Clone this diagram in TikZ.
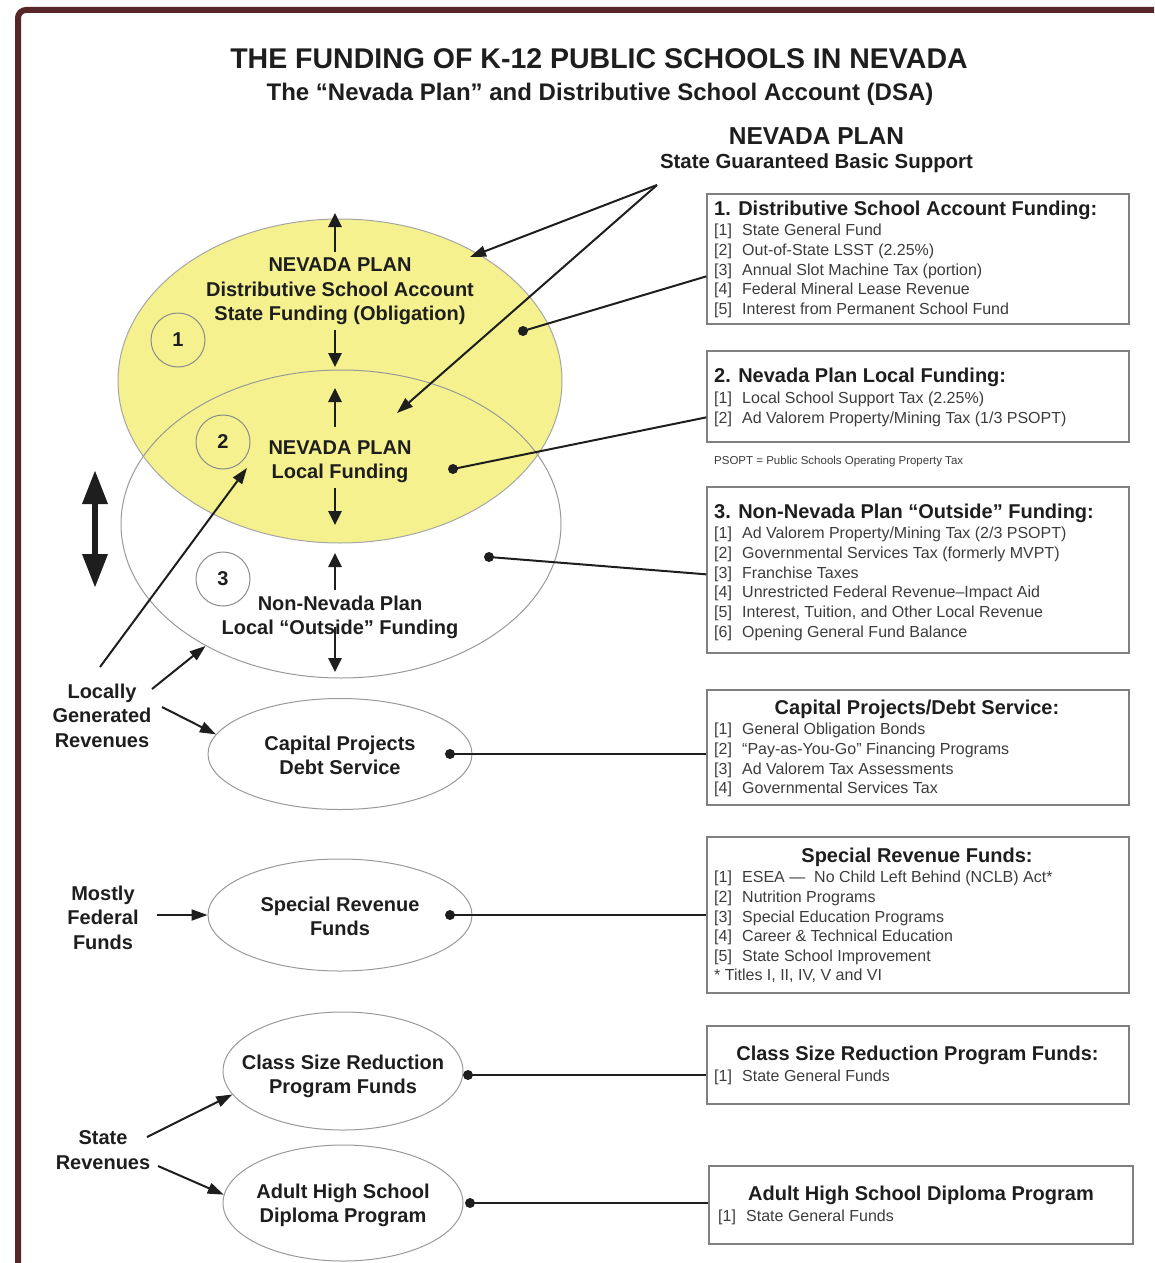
\documentclass[tikz,border=0pt]{standalone}
\usepackage{fontspec}
\setmainfont{Liberation Sans}
\usepackage{tikz}
\usetikzlibrary{arrows.meta, positioning, calc, shapes.geometric}

\definecolor{framered}{RGB}{88,38,40}
\definecolor{planyellow}{RGB}{245,241,142}
\definecolor{ink}{RGB}{30,30,30}
\definecolor{itemgray}{RGB}{60,60,60}

\newcommand{\itm}[2]{\makebox[28pt][l]{[#1]}#2}

\begin{document}
\begin{tikzpicture}[x=1pt, y=-1pt,
  lbl/.style={font=\fontsize{20}{24.5}\selectfont\bfseries, text=ink, align=center},
  boxtitle/.style={font=\fontsize{20}{24}\selectfont\bfseries, text=ink, inner sep=0pt},
  entry/.style={font=\fontsize{16}{19.7}\selectfont, text=itemgray, inner sep=0pt, anchor=base west},
  fundbox/.style={draw=black!50, line width=1.3pt, inner sep=0pt},
  fund/.style={ellipse, draw=black!40, line width=1pt, inner sep=0pt},
  num/.style={circle, draw=black!45, line width=1pt, minimum size=54pt, inner sep=0pt,
    font=\fontsize{20}{24}\selectfont\bfseries, text=ink},
  dot/.style={circle, fill=ink, inner sep=0pt, minimum size=10pt},
  tie/.style={line width=2pt, draw=ink},
  flow/.style={-{Triangle[length=14pt,width=13pt]}, line width=2.6pt, draw=ink},
  pointer/.style={-{Triangle[length=16pt,width=11pt]}, line width=2pt, draw=ink}]
  \useasboundingbox (0,0) rectangle (1154,1263);
  % --- frame ---
  \draw[framered, line width=6pt, rounded corners=8pt] (18,1263) -- (18,10) -- (1154,10);
  % --- titles ---
  \node[font=\fontsize{28.5}{34}\selectfont\bfseries, text=ink, anchor=base] (title) at (599,68)
    {THE FUNDING OF K-12 PUBLIC SCHOOLS IN NEVADA};
  \node[font=\fontsize{24}{29}\selectfont\bfseries, text=ink, anchor=base] (subtitle) at (600,100)
    {The “Nevada Plan” and Distributive School Account (DSA)};
  \node[font=\fontsize{24.5}{29}\selectfont\bfseries, text=ink, anchor=base] (np) at (816.5,144) {NEVADA PLAN};
  \node[font=\fontsize{20.4}{24}\selectfont\bfseries, text=ink, anchor=base] (sgbs) at (816.5,168)
    {State Guaranteed Basic Support};

  % --- Nevada Plan ellipses ---
  \node[ellipse, fill=planyellow, draw=black!35, line width=1pt, minimum width=444pt, minimum height=324pt] (dsa) at (340,381) {};
  \node[ellipse, draw=black!40, line width=1pt, minimum width=440pt, minimum height=308pt] (outside) at (341,524) {};
  \node[lbl] (dsatxt) at (340,291.5) {NEVADA PLAN\\Distributive School Account\\State Funding (Obligation)};
  \node[lbl] (localtxt) at (340,461.5) {NEVADA PLAN\\Local Funding};
  \node[lbl] (outtxt) at (340,617.5) {Non-Nevada Plan\\Local “Outside” Funding};
  \node[num] (n1) at (178,340) {1};
  \node[num] (n2) at (223,442) {2};
  \node[num] (n3) at (223,579) {3};
  % up/down arrows
  \foreach \a/\b [count=\k] in {252/213, 330/367, 427/388, 488/525, 590/553, 627/672} {
    \coordinate (f\k-a) at (335,\a);
    \coordinate (f\k-b) at (335,\b);
    \draw[flow] (f\k-a) -- (f\k-b);
  }
  % swing arrow
  \coordinate (swingtop) at (95,470);
  \coordinate (swingbot) at (95,588);
  \draw[{Triangle[length=34pt,width=24pt]}-{Triangle[length=34pt,width=24pt]}, line width=6.5pt, draw=ink]
    (swingbot) -- (swingtop);
  % state guaranteed pointers
  \coordinate (apex) at (657,185);
  \coordinate (tip1) at (470,257);
  \coordinate (tip2) at (397,413);
  \draw[pointer] (apex) -- (tip1);
  \draw[pointer] (apex) -- (tip2);

  % --- other funds ---
  \node[fund, minimum width=264pt, minimum height=111pt] (cap) at (340,754) {};
  \node[fund, minimum width=264pt, minimum height=112pt] (srf) at (340,915) {};
  \node[fund, minimum width=240pt, minimum height=118pt] (csr) at (343,1071) {};
  \node[fund, minimum width=240pt, minimum height=116pt] (ahs) at (343,1203) {};
  \node[lbl] (captxt) at (340,755.5) {Capital Projects\\Debt Service};
  \node[lbl] (srftxt) at (340,916.5) {Special Revenue\\Funds};
  \node[lbl] (csrtxt) at (343,1076.5) {Class Size Reduction\\Program Funds};
  \node[lbl] (ahstxt) at (343,1205.5) {Adult High School\\Diploma Program};

  % --- revenue sources ---
  \node[lbl] (loc) at (102,715.5) {Locally\\Generated\\Revenues};
  \node[lbl] (fed) at (103,917.5) {Mostly\\Federal\\Funds};
  \node[lbl] (st) at (103,1150) {State\\Revenues};
  \coordinate (loc1) at (100,667);
  \coordinate (loctip) at (247,468);
  \coordinate (loc2) at (152,689);
  \coordinate (loc3) at (162,707);
  \coordinate (fed1) at (157,915);
  \coordinate (st1) at (147,1137);
  \coordinate (st2) at (158,1166);
  \draw[pointer] (loc1) -- (loctip);
  \draw[pointer] (loc2) -- (outside.222);
  \draw[pointer] (loc3) -- (cap.171);
  \draw[pointer] (fed1) -- (srf.west);
  \draw[pointer] (st1) -- (csr.192);
  \draw[pointer] (st2) -- (ahs.176);

  % --- 1. DSA funding ---
  \node[fundbox, minimum width=422pt, minimum height=130pt] (b1) at (918,259) {};
  \node[boxtitle, anchor=base west] (b1t) at (714,215) {1. Distributive School Account Funding:};
  \foreach \t [count=\i] in {State General Fund, Out-of-State LSST (2.25\%), Annual Slot Machine Tax (portion),
      Federal Mineral Lease Revenue, Interest from Permanent School Fund}
    \node[entry] (b1e\i) at (714,{216+19.7*\i}) {\itm{\i}{\t}};
  % --- 2. local funding ---
  \node[fundbox, minimum width=422pt, minimum height=91pt] (b2) at (918,396.5) {};
  \node[boxtitle, anchor=base west] (b2t) at (714,382) {2. Nevada Plan Local Funding:};
  \foreach \t [count=\i] in {Local School Support Tax (2.25\%), Ad Valorem Property/Mining Tax (1/3 PSOPT)}
    \node[entry] (b2e\i) at (714,{384+19.7*\i}) {\itm{\i}{\t}};
  \node[entry, font=\fontsize{11.5}{14}\selectfont] (psopt) at (714,464) {PSOPT = Public Schools Operating Property Tax};
  % --- 3. outside funding ---
  \node[fundbox, minimum width=422pt, minimum height=166pt] (b3) at (918,570) {};
  \node[boxtitle, anchor=base west] (b3t) at (714,518) {3. Non-Nevada Plan “Outside” Funding:};
  \foreach \t [count=\i] in {Ad Valorem Property/Mining Tax (2/3 PSOPT), Governmental Services Tax (formerly MVPT),
      Franchise Taxes, Unrestricted Federal Revenue--Impact Aid, {Interest, Tuition, and Other Local Revenue},
      Opening General Fund Balance}
    \node[entry] (b3e\i) at (714,{519+19.7*\i}) {\itm{\i}{\t}};
  % --- capital projects ---
  \node[fundbox, minimum width=422pt, minimum height=115pt] (b4) at (918,747.5) {};
  \node[boxtitle, anchor=base] (b4t) at (917,714) {Capital Projects/Debt Service:};
  \foreach \t [count=\i] in {General Obligation Bonds, “Pay-as-You-Go” Financing Programs,
      Ad Valorem Tax Assessments, Governmental Services Tax}
    \node[entry] (b4e\i) at (714,{715+19.7*\i}) {\itm{\i}{\t}};
  % --- special revenue ---
  \node[fundbox, minimum width=422pt, minimum height=156pt] (b5) at (918,915) {};
  \node[boxtitle, anchor=base] (b5t) at (917,862) {Special Revenue Funds:};
  \foreach \t [count=\i] in {ESEA ---\ \ No Child Left Behind (NCLB) Act*, Nutrition Programs,
      Special Education Programs, Career \& Technical Education, State School Improvement}
    \node[entry] (b5e\i) at (714,{863+19.7*\i}) {\itm{\i}{\t}};
  \node[entry] (b5n) at (714,980.7) {* Titles I, II, IV, V and VI};
  % --- class size ---
  \node[fundbox, minimum width=422pt, minimum height=78pt] (b6) at (918,1065) {};
  \node[boxtitle, anchor=base] (b6t) at (917.5,1060) {Class Size Reduction Program Funds:};
  \node[entry] (b6e1) at (714,1081.7) {\itm{1}{State General Funds}};
  % --- adult high school ---
  \node[fundbox, minimum width=424pt, minimum height=78pt] (b7) at (921,1205) {};
  \node[boxtitle, anchor=base] (b7t) at (921,1200) {Adult High School Diploma Program};
  \node[entry] (b7e1) at (718,1221.7) {\itm{1}{State General Funds}};

  % --- ties ---
  \node[dot] (d1) at (523,331) {};
  \node[dot] (d2) at (453,469) {};
  \node[dot] (d3) at (489,557) {};
  \node[dot] (d4) at (450,754) {};
  \node[dot] (d5) at (450,915) {};
  \node[dot] (d6) at (468,1075) {};
  \node[dot] (d7) at (470,1203) {};
  \coordinate (p1) at ($(b1.north west)+(0,83)$);
  \coordinate (p2) at ($(b2.north west)+(0,67)$);
  \coordinate (p3) at ($(b3.north west)+(0,88)$);
  \draw[tie] (d1.center) -- (p1);
  \draw[tie] (d2.center) -- (p2);
  \draw[tie] (d3.center) -- (p3);
  \foreach \k in {4,5,6,7}
    \draw[tie] (d\k.center) -- (d\k -| b\k.west);
\end{tikzpicture}
\end{document}
